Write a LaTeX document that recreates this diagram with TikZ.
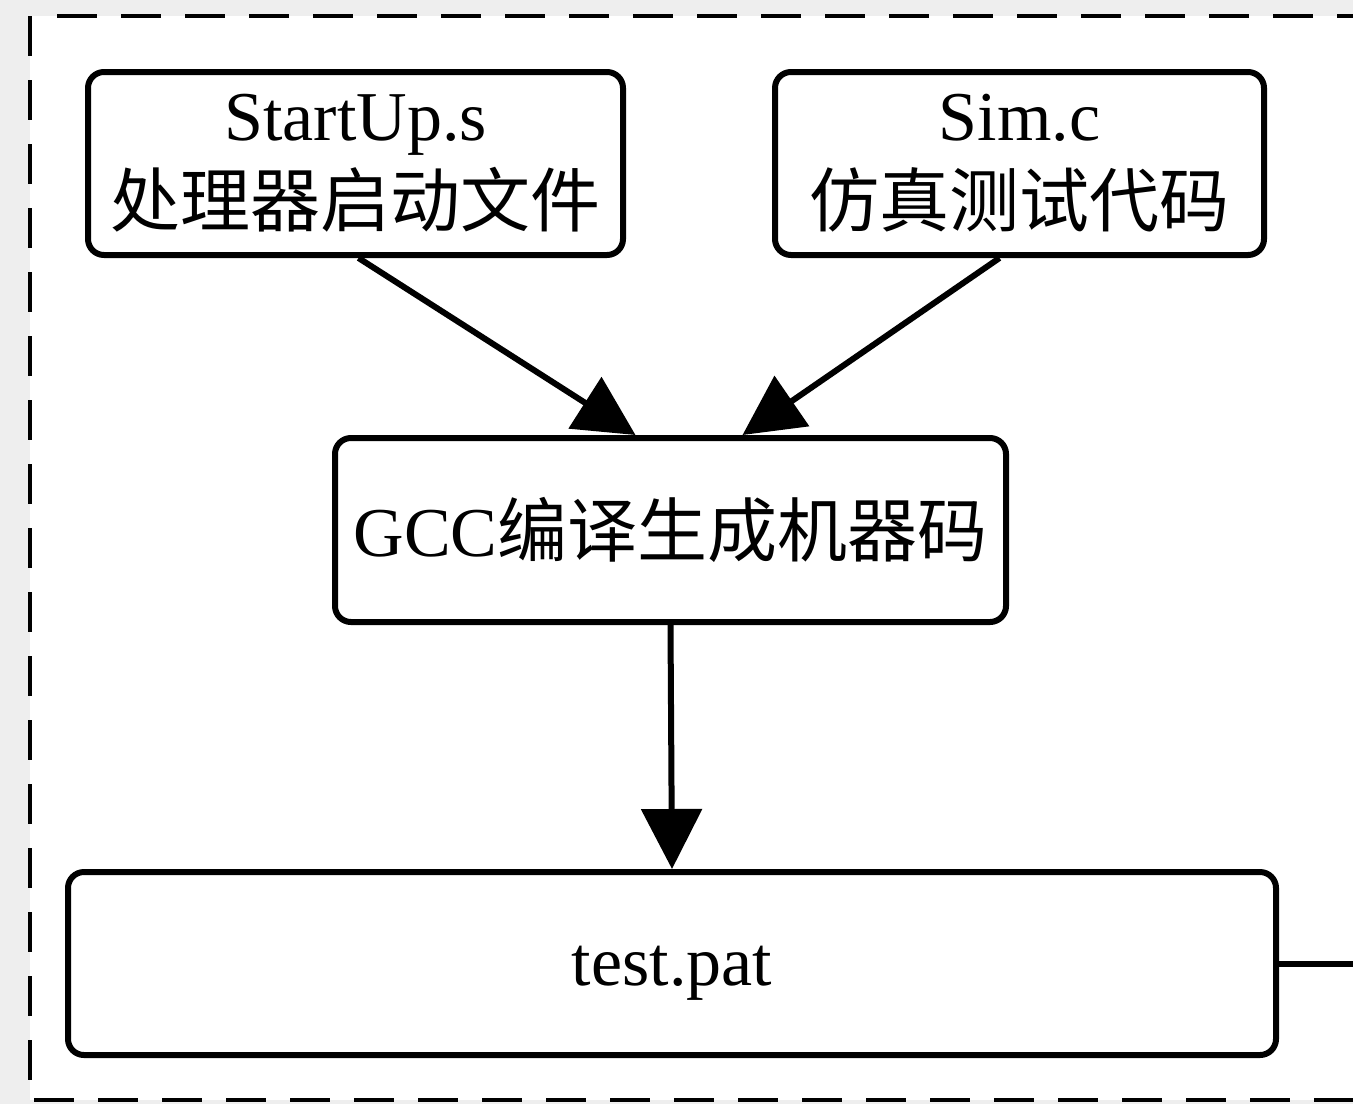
\documentclass[tikz,border=0pt]{standalone}
\usepackage{fontspec}
\setmainfont{Liberation Serif}
\newfontfamily\cjk{Noto Sans CJK SC}
\usetikzlibrary{arrows.meta,calc}
\definecolor{bggray}{RGB}{238,238,238}
\begin{document}
\begin{tikzpicture}[x=0.5pt,y=-0.5pt,
  box/.style={draw, line width=3pt, rounded corners=8pt, fill=white, align=center, inner sep=0pt,
    font=\fontsize{35pt}{43pt}\selectfont},
  arr/.style={line width=3pt, -{Triangle[length=30pt,width=30pt]}},
  frame/.style={line width=2.2pt, dash pattern=on 20pt off 12pt},
]
\useasboundingbox (0,0) rectangle (1353,1104);
\clip (0,0) rectangle (1353,1104);
\fill[bggray] (0,0) rectangle (1353,1104);
\fill[white] (30,16) rectangle (1420,1100);
\draw[frame] (30,16) -- (30,1100) -- (1420,1100);
\draw[frame] (57,16) -- (1420,16);

\node[box, minimum width=267.5pt, minimum height=91.5pt] (su) at (355.5,163.5) {StartUp.s\\{\cjk 处理器启动文件}};
\node[box, minimum width=244.5pt, minimum height=91.5pt] (sim) at (1019.5,163.5) {Sim.c\\{\cjk 仿真测试代码}};
\node[box, minimum width=335.5pt, minimum height=92pt] (gcc) at (670.5,530) {GCC{\cjk 编译生成机器码}};
\node[box, minimum width=604pt, minimum height=91.5pt, text height=30pt, text depth=7.6pt] (tp) at (672,963.5) {test.pat};
\coordinate (out) at (1360,963.5);

\draw[arr] ([xshift=1.5pt]su.south) -- ([xshift=-17.5pt]gcc.north);
\draw[arr] ([xshift=-10pt]sim.south) -- ([xshift=36pt]gcc.north);
\draw[arr] (gcc.south) -- (tp.north);
\draw[line width=3pt] (tp.east) -- (out);
\end{tikzpicture}
\end{document}
